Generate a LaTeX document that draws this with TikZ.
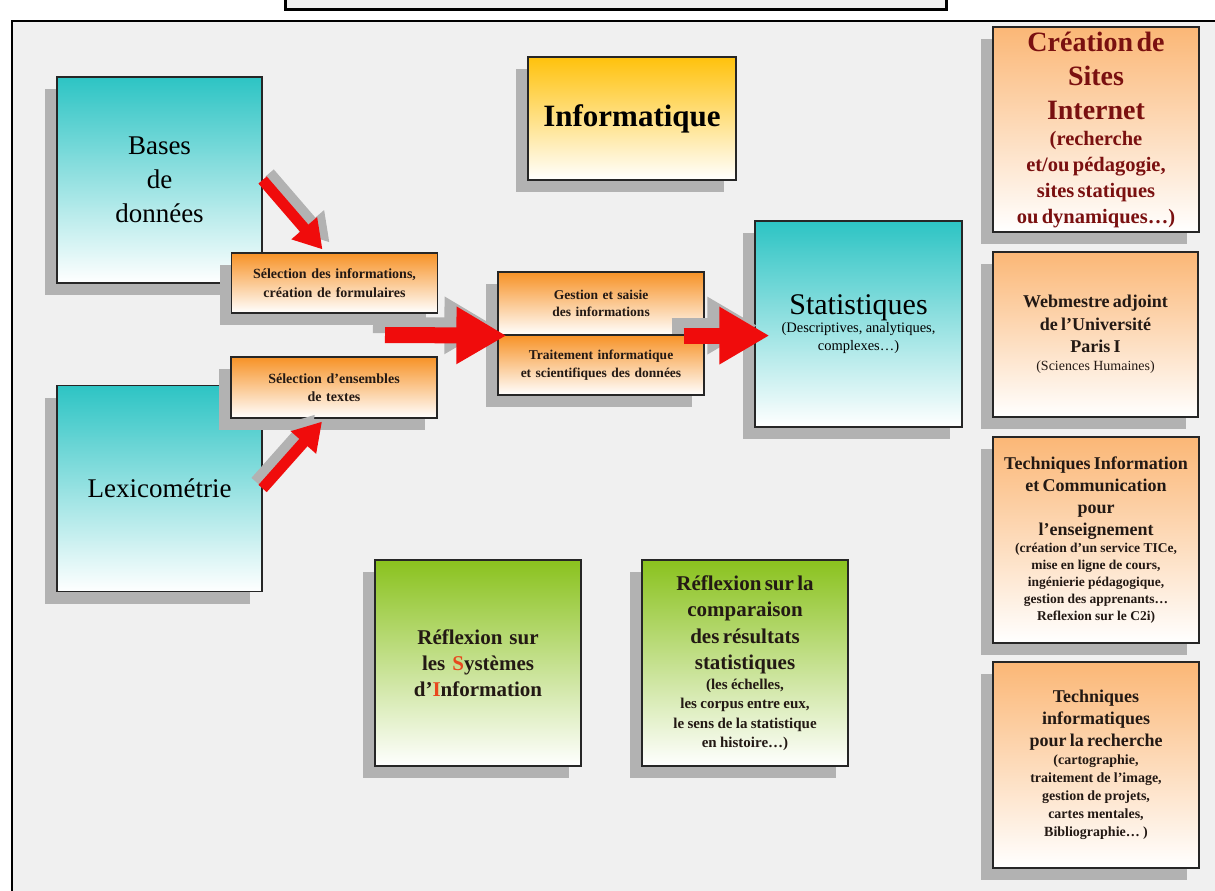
\documentclass[tikz,border=0pt]{standalone}
\usepackage{fontspec}
\setmainfont{Liberation Serif}
\usetikzlibrary{arrows.meta,shadows,calc}

\definecolor{tealTop}{RGB}{45,196,196}
\definecolor{orangeTop}{RGB}{247,146,38}
\definecolor{peachTop}{RGB}{251,183,118}
\definecolor{greenTop}{RGB}{138,194,30}
\definecolor{goldTop}{RGB}{255,194,12}
\definecolor{darkRed}{RGB}{122,16,16}
\definecolor{siRed}{RGB}{232,72,30}
\definecolor{arrowRed}{RGB}{240,12,12}
\definecolor{paper}{RGB}{240,240,240}
\definecolor{shadowGray}{RGB}{178,178,178}
\definecolor{inkDark}{RGB}{35,25,20}

\begin{document}
\begin{tikzpicture}
[x=1pt,y=-1pt,
  boxDecorate/.style={draw=black!85,line width=1.2pt,inner sep=0pt,align=center,
    drop shadow={shadow xshift=-12pt,shadow yshift=-12pt,fill=shadowGray,opacity=1}},
  bigBox/.style={boxDecorate,minimum width=206pt,minimum height=206pt,text width=204pt},
  tealBox/.style={bigBox,top color=tealTop,bottom color=white},
  peachBox/.style={bigBox,top color=peachTop,bottom color=white,text=inkDark},
  greenBox/.style={bigBox,top color=greenTop,bottom color=white,text=inkDark},
  smallBox/.style={boxDecorate,top color=orangeTop,bottom color=white,text=inkDark,
    minimum width=206pt,text width=204pt,font=\bfseries\fontsize{14}{18.5}\selectfont},
  bigArrow/.style={arrowRed,line width=16pt,-{Triangle[length=50pt,width=54pt]}},
  slimArrow/.style={arrowRed,line width=11pt,-{Triangle[length=28pt,width=32pt]}}]

%% page and frame
\useasboundingbox (0,0) rectangle (1215,891);
\fill[paper] (12,21) rectangle (1215,891);
\draw[line width=2pt] (12,891) -- (12,21) -- (1215,21);
\draw[line width=3pt,fill=paper] (285,-4) rectangle (946,10);

%% left column
\node (bases) at (159.5,180) [tealBox,minimum width=205pt,
  font=\fontsize{27}{34}\selectfont] {Bases\\ de\\ données};
\node (sel1) at (334.5,283) [smallBox,minimum height=60pt]
  {Sélection des informations,\\ création de formulaires};
\node (lexi) at (159.5,488.5) [tealBox,minimum width=205pt,
  font=\fontsize{27}{34}\selectfont] {Lexicométrie};
\node (sel2) at (334,387.5) [smallBox,minimum height=61pt]
  {Sélection d’ensembles\\ de textes};

%% middle
\node (info) at (632,118.5) [boxDecorate,top color=goldTop,bottom color=white,
  minimum width=208pt,minimum height=123pt,font=\bfseries\fontsize{31}{36}\selectfont]
  {Informatique};
\node (gest) at (601,303.5) [smallBox,minimum height=63pt,
  font=\bfseries\fontsize{13.5}{17.5}\selectfont]
  {Gestion et saisie\\ des informations};
\node (trait) at (601,365) [smallBox,minimum height=60pt,
  font=\bfseries\fontsize{13.5}{17.5}\selectfont]
  {Traitement informatique\\ et scientifiques des données};
\node (stat) at (858.5,324) [tealBox,minimum width=207pt]
  {\fontsize{30}{30}\selectfont Statistiques\par
   \fontsize{14.5}{18}\selectfont (Descriptives, analytiques,\\ complexes…)\par};

%% bottom
\node (sysinfo) at (478,663) [greenBox,font=\bfseries\fontsize{21}{26}\selectfont]
  {Réflexion sur\\ les \textcolor{siRed}{S}ystèmes\\ d’\textcolor{siRed}{I}nformation};
\node (compar) at (745,663) [greenBox]
  {\bfseries\fontsize{21}{26.5}\selectfont Réflexion sur la\\ comparaison\\
   des résultats\\ statistiques\par
   \fontsize{15}{19.5}\selectfont (les échelles,\\ les corpus entre eux,\\
   le sens de la statistique\\ en histoire…)\par};

%% right column
\node (creat) at (1096,129.5) [peachBox,minimum height=205pt,text=darkRed]
  {\bfseries\fontsize{28}{34}\selectfont Création de\\ Sites\\ Internet\par
   \fontsize{20.5}{26}\selectfont (recherche\\ et/ou pédagogie,\\ sites statiques\\
   ou dynamiques…)\par};
\node (web) at (1095.5,334.5) [peachBox,minimum width=205pt,minimum height=165pt]
  {\bfseries\fontsize{18}{22.5}\selectfont Webmestre adjoint\\ de l’Université\\ Paris I\par
   \mdseries\fontsize{14}{18}\selectfont (Sciences Humaines)\par};
\node (tice) at (1096,540) [peachBox]
  {\bfseries\fontsize{18}{22}\selectfont Techniques Information\\ et Communication\\
   pour\\ l’enseignement\par
   \fontsize{13.5}{17}\selectfont (création d’un service TICe,\\ mise en ligne de cours,\\
   ingénierie pédagogique,\\ gestion des apprenants…\\ Reflexion sur le C2i)\par};
\node (rech) at (1096,765) [peachBox]
  {\bfseries\fontsize{18}{22}\selectfont Techniques\\ informatiques\\
   pour la recherche\par
   \fontsize{14}{18}\selectfont (cartographie,\\ traitement de l’image,\\
   gestion de projets,\\ cartes mentales,\\ Bibliographie… )\par};

%% arrows
\coordinate (selTip1) at ($(sel1.north)+(-12,-3)$);
\coordinate (selTip2) at ($(sel2.south)+(-12,3)$);
\coordinate (bigTail1) at (385,335);
\coordinate (bigTip1) at ($(gest.south west)+(9,0)$);
\coordinate (bigTail2) at ($(gest.south east)+(-21,0)$);
\coordinate (bigTip2) at ($(stat.west |- gest.south)+(15,0)$);

\draw[slimArrow,shadowGray,transform canvas={xshift=7pt,yshift=7pt}] (bases.east) -- (selTip1);
\draw[slimArrow,shadowGray,transform canvas={xshift=-7pt,yshift=7pt}] (lexi.east) -- (selTip2);
\draw[bigArrow,shadowGray,transform canvas={xshift=-12pt,yshift=10pt}] (bigTail1) -- (bigTip1);
\draw[bigArrow,shadowGray,transform canvas={xshift=-12pt,yshift=10pt}] (bigTail2) -- (bigTip2);

\draw[slimArrow] (bases.east) -- (selTip1);
\draw[slimArrow] (lexi.east) -- (selTip2);
\draw[bigArrow] (bigTail1) -- (bigTip1);
\draw[bigArrow] (bigTail2) -- (bigTip2);
\end{tikzpicture}
\end{document}
